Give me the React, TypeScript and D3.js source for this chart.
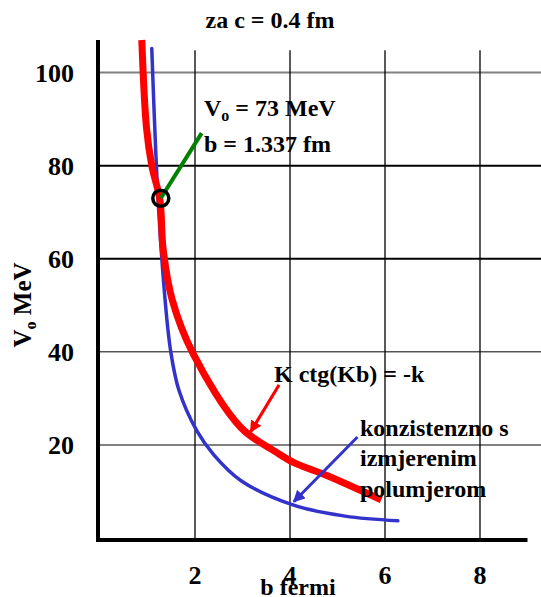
import React, { useEffect, useRef } from "react";
import * as d3 from "d3";

// b (fm) vs V0 (MeV)
const redB = [0.88, 0.98, 1.09, 1.26, 1.33, 1.52, 1.96, 2.97, 3.7, 4.06, 4.8, 5.92];
const redV = [107, 88, 80, 72.7, 62, 51.2, 39.6, 23.7, 18.5, 16.3, 13.3, 8.2];

const blueB = [1.09, 1.22, 1.37, 1.49, 1.66, 2.04, 2.4, 2.97, 4.06, 5.16, 6.27];
const blueV = [105.2, 73.3, 51.2, 40, 31.8, 23, 17.8, 12.3, 7.1, 4.7, 3.7];

const markerB = 1.28;
const markerV = 73;

const xTicks = [2, 4, 6, 8];
const yTicks = [20, 40, 60, 80, 100];

const title = "za c = 0.4 fm";
const xTitle = "b  fermi";

export default function App() {
  const svgRef = useRef<SVGSVGElement>(null);

  useEffect(() => {
    document.body.style.margin = "0";
    const w = 541;
    const h = 597;
    const font = "'Liberation Serif', 'Times New Roman', serif";

    const svg = d3.select(svgRef.current).attr("width", w).attr("height", h);
    svg.selectAll("*").remove();

    const x = d3.scaleLinear().domain([0, 9]).range([100, 527.5]);
    const y = d3.scaleLinear().domain([0, 107]).range([538, 40]);

    const defs = svg.append("defs");
    const mk = (id: string, color: string) =>
      defs
        .append("marker")
        .attr("id", id)
        .attr("viewBox", "0 0 10 10")
        .attr("refX", 9)
        .attr("refY", 5)
        .attr("markerWidth", 4)
        .attr("markerHeight", 4)
        .attr("markerUnits", "strokeWidth")
        .attr("orient", "auto")
        .append("path")
        .attr("d", "M0,0 L10,5 L0,10 z")
        .attr("fill", color);
    mk("ah-red", "#ff0000");
    mk("ah-blue", "#3333cc");

    // horizontal grid
    svg
      .append("g")
      .selectAll("line")
      .data(yTicks)
      .join("line")
      .attr("x1", x(0))
      .attr("x2", w)
      .attr("y1", (d) => y(d))
      .attr("y2", (d) => y(d))
      .attr("stroke", (d) => (d === 20 || d === 100 ? "#808080" : "#000"))
      .attr("stroke-width", (d) => (d === 40 ? 1 : 2));

    // vertical grid
    svg
      .append("g")
      .selectAll("line")
      .data(xTicks)
      .join("line")
      .attr("x1", (d) => x(d))
      .attr("x2", (d) => x(d))
      .attr("y1", y(104.8))
      .attr("y2", y(0))
      .attr("stroke", "#000")
      .attr("stroke-width", 1.3);

    // axes
    svg
      .append("line")
      .attr("x1", x(0) - 2)
      .attr("x2", x(0) - 2)
      .attr("y1", y(107))
      .attr("y2", y(0) + 4)
      .attr("stroke", "#000")
      .attr("stroke-width", 4);
    svg
      .append("line")
      .attr("x1", x(0) - 4)
      .attr("x2", x(9))
      .attr("y1", y(0) + 2)
      .attr("y2", y(0) + 2)
      .attr("stroke", "#000")
      .attr("stroke-width", 4);

    // tick labels
    svg
      .append("g")
      .selectAll("text")
      .data(yTicks)
      .join("text")
      .attr("x", 74)
      .attr("y", (d) => y(d) + 9.5)
      .attr("text-anchor", "end")
      .attr("font-family", font)
      .attr("font-weight", "bold")
      .attr("font-size", 26)
      .text((d) => d);
    svg
      .append("g")
      .selectAll("text")
      .data(xTicks)
      .join("text")
      .attr("x", (d) => x(d))
      .attr("y", 584)
      .attr("text-anchor", "middle")
      .attr("font-family", font)
      .attr("font-weight", "bold")
      .attr("font-size", 26)
      .text((d) => d);

    // titles
    svg
      .append("text")
      .attr("x", 270)
      .attr("y", 28)
      .attr("text-anchor", "middle")
      .attr("font-family", font)
      .attr("font-weight", "bold")
      .attr("font-size", 24)
      .text(title);
    svg
      .append("text")
      .attr("x", 298)
      .attr("y", 595)
      .attr("text-anchor", "middle")
      .attr("font-family", font)
      .attr("font-weight", "bold")
      .attr("font-size", 24)
      .text(xTitle);
    const yl = svg
      .append("text")
      .attr("transform", "translate(31,305) rotate(-90)")
      .attr("text-anchor", "middle")
      .attr("font-family", font)
      .attr("font-weight", "bold")
      .attr("font-size", 25);
    yl.append("tspan").text("V");
    yl.append("tspan").attr("font-size", 16).attr("dy", 5).text("o");
    yl.append("tspan").attr("dy", -5).text(" MeV");

    const line = d3
      .line<[number, number]>()
      .x((d) => x(d[0]))
      .y((d) => y(d[1]))
      .curve(d3.curveCatmullRom.alpha(0.5));

    svg
      .append("path")
      .attr("d", line(blueB.map((b, i) => [b, blueV[i]] as [number, number])))
      .attr("fill", "none")
      .attr("stroke", "#3333cc")
      .attr("stroke-width", 3.5)
      .attr("stroke-linecap", "round");
    svg
      .append("path")
      .attr("d", line(redB.map((b, i) => [b, redV[i]] as [number, number])))
      .attr("fill", "none")
      .attr("stroke", "#ff0000")
      .attr("stroke-width", 7);

    // marker and its pointer
    svg
      .append("line")
      .attr("x1", x(2.14))
      .attr("y1", y(87))
      .attr("x2", x(markerB))
      .attr("y2", y(markerV))
      .attr("stroke", "#008000")
      .attr("stroke-width", 4);
    svg
      .append("circle")
      .attr("cx", x(markerB))
      .attr("cy", y(markerV))
      .attr("r", 8)
      .attr("fill", "none")
      .attr("stroke", "#000")
      .attr("stroke-width", 3.5);

    // arrows
    svg
      .append("line")
      .attr("x1", x(3.77))
      .attr("y1", y(32.9))
      .attr("x2", x(3.17))
      .attr("y2", y(22.8))
      .attr("stroke", "#ff0000")
      .attr("stroke-width", 3)
      .attr("marker-end", "url(#ah-red)");
    svg
      .append("line")
      .attr("x1", x(5.42))
      .attr("y1", y(21.7))
      .attr("x2", x(4.08))
      .attr("y2", y(7.8))
      .attr("stroke", "#3333cc")
      .attr("stroke-width", 3)
      .attr("marker-end", "url(#ah-blue)");

    // annotations
    const note = (tx: number, ty: number, s: string) =>
      svg
        .append("text")
        .attr("x", tx)
        .attr("y", ty)
        .attr("font-family", font)
        .attr("font-weight", "bold")
        .attr("font-size", 24)
        .text(s);

    const v0 = svg
      .append("text")
      .attr("x", 204)
      .attr("y", 116)
      .attr("font-family", font)
      .attr("font-weight", "bold")
      .attr("font-size", 24);
    v0.append("tspan").text("V");
    v0.append("tspan").attr("font-size", 16).attr("dy", 5).text("o");
    v0.append("tspan").attr("dy", -5).text(" = 73 MeV");
    note(204, 152, "b = 1.337 fm");
    note(274, 382, "K ctg(Kb) = -k");
    note(360, 436, "konzistenzno s");
    note(360, 466, "izmjerenim");
    note(360, 497, "polumjerom");
  }, []);

  return (
    <div>
      <svg ref={svgRef} style={{ display: "block" }}></svg>
    </div>
  );
}
